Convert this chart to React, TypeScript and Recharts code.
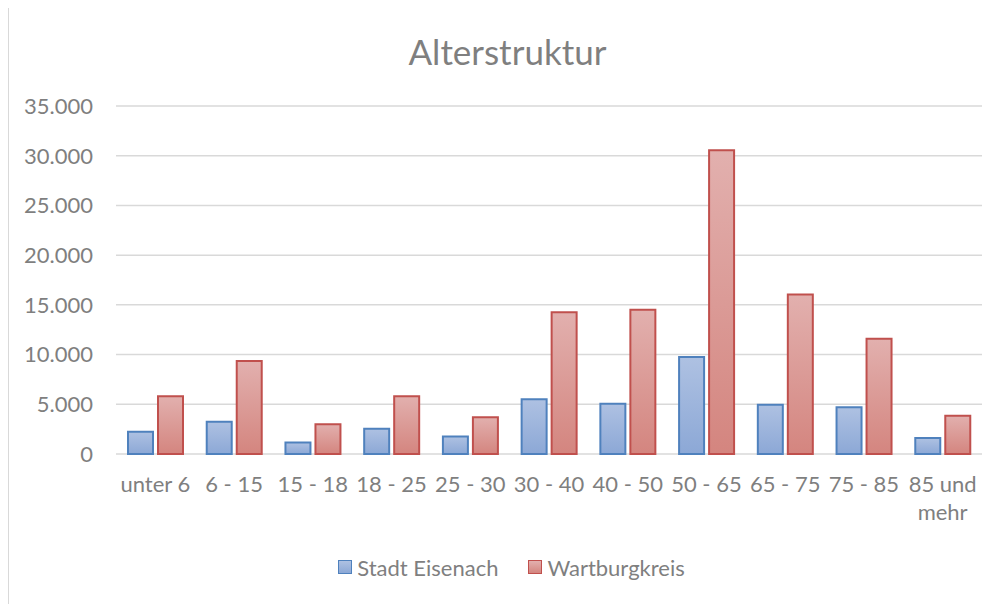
import { BarChart, Bar, XAxis, YAxis, CartesianGrid, Legend, Text } from "recharts";

const categories = [
  "unter 6",
  "6 - 15",
  "15 - 18",
  "18 - 25",
  "25 - 30",
  "30 - 40",
  "40 - 50",
  "50 - 65",
  "65 - 75",
  "75 - 85",
  "85 und mehr",
];
const eisenach = [2250, 3250, 1150, 2550, 1750, 5500, 5050, 9750, 4950, 4700, 1600];
const wartburg = [5800, 9350, 3000, 5800, 3700, 14250, 14500, 30550, 16050, 11600, 3850];
const yTicks = [0, 5000, 10000, 15000, 20000, 25000, 30000, 35000];

const data = categories.map((c, i) => ({
  name: c,
  eisenach: eisenach[i],
  wartburg: wartburg[i],
}));

const FONT = "Lato, 'Open Sans', sans-serif";
const GRAY = "#7f7f7f";

const fmt = (v: number) => String(v).replace(/\B(?=(\d{3})+(?!\d))/g, ".");

const XTick = ({ x, y, payload }: any) => (
  <Text
    x={x}
    y={y}
    width={78}
    textAnchor="middle"
    verticalAnchor="start"
    lineHeight={28}
    fill={GRAY}
    style={{ fontFamily: FONT, fontSize: 22 }}
  >
    {payload.value}
  </Text>
);

const legendItems = [
  { name: "Stadt Eisenach", border: "#4f81bd", top: "#aec1e2", bottom: "#8ca8d6" },
  { name: "Wartburgkreis", border: "#c0504d", top: "#e2b0ae", bottom: "#d4857f" },
];

const renderLegend = () => (
  <div
    style={{
      display: "flex",
      justifyContent: "center",
      alignItems: "center",
      height: 30,
      paddingLeft: 8,
      fontFamily: FONT,
      fontSize: 22,
      color: GRAY,
    }}
  >
    {legendItems.map((it, i) => (
      <div key={it.name} style={{ display: "flex", alignItems: "center", marginLeft: i ? 30 : 0 }}>
        <div
          style={{
            width: 12,
            height: 12,
            border: "1.5px solid " + it.border,
            background: `linear-gradient(${it.top}, ${it.bottom})`,
            marginRight: 5,
          }}
        />
        <span>{it.name}</span>
      </div>
    ))}
  </div>
);

export default function App() {
  return (
    <div
      style={{
        position: "relative",
        marginTop: -1,
        width: 997,
        height: 596,
        borderTop: "1px solid #d9d9d9",
        borderLeft: "1px solid #d9d9d9",
        background: "#fff",
      }}
    >
      <div
        style={{
          position: "absolute",
          top: 22,
          left: 0,
          width: 997,
          textAlign: "center",
          fontFamily: FONT,
          fontSize: 35,
          color: GRAY,
        }}
      >
        Alterstruktur
      </div>
      <BarChart
        width={997}
        height={596}
        data={data}
        margin={{ top: 98, right: 24, left: 0, bottom: 22 }}
        barSize={25}
        barGap={5}
      >
        <defs>
          <linearGradient id="gBlue" x1="0" y1="0" x2="0" y2="1">
            <stop offset="0%" stopColor="#aec1e2" />
            <stop offset="100%" stopColor="#8ca8d6" />
          </linearGradient>
          <linearGradient id="gRed" x1="0" y1="0" x2="0" y2="1">
            <stop offset="0%" stopColor="#e2b0ae" />
            <stop offset="100%" stopColor="#d4857f" />
          </linearGradient>
        </defs>
        <CartesianGrid vertical={false} stroke="#d9d9d9" strokeWidth={1.5} />
        <XAxis
          dataKey="name"
          axisLine={false}
          tickLine={false}
          tickSize={0}
          tickMargin={22}
          height={98}
          interval={0}
          tick={<XTick />}
        />
        <YAxis
          width={107}
          domain={[0, 35000]}
          ticks={yTicks}
          axisLine={false}
          tickLine={false}
          tickSize={0}
          tickMargin={23}
          tickFormatter={fmt}
          tick={{ fill: GRAY, fontFamily: FONT, fontSize: 22 }}
        />
        <Legend
          verticalAlign="bottom"
          height={30}
          content={renderLegend}
          wrapperStyle={{ left: 0, width: 997 }}
        />
        <Bar
          dataKey="eisenach"
          name="Stadt Eisenach"
          fill="url(#gBlue)"
          stroke="#4f81bd"
          strokeWidth={2}
          isAnimationActive={false}
        />
        <Bar
          dataKey="wartburg"
          name="Wartburgkreis"
          fill="url(#gRed)"
          stroke="#c0504d"
          strokeWidth={2}
          isAnimationActive={false}
        />
      </BarChart>
    </div>
  );
}
